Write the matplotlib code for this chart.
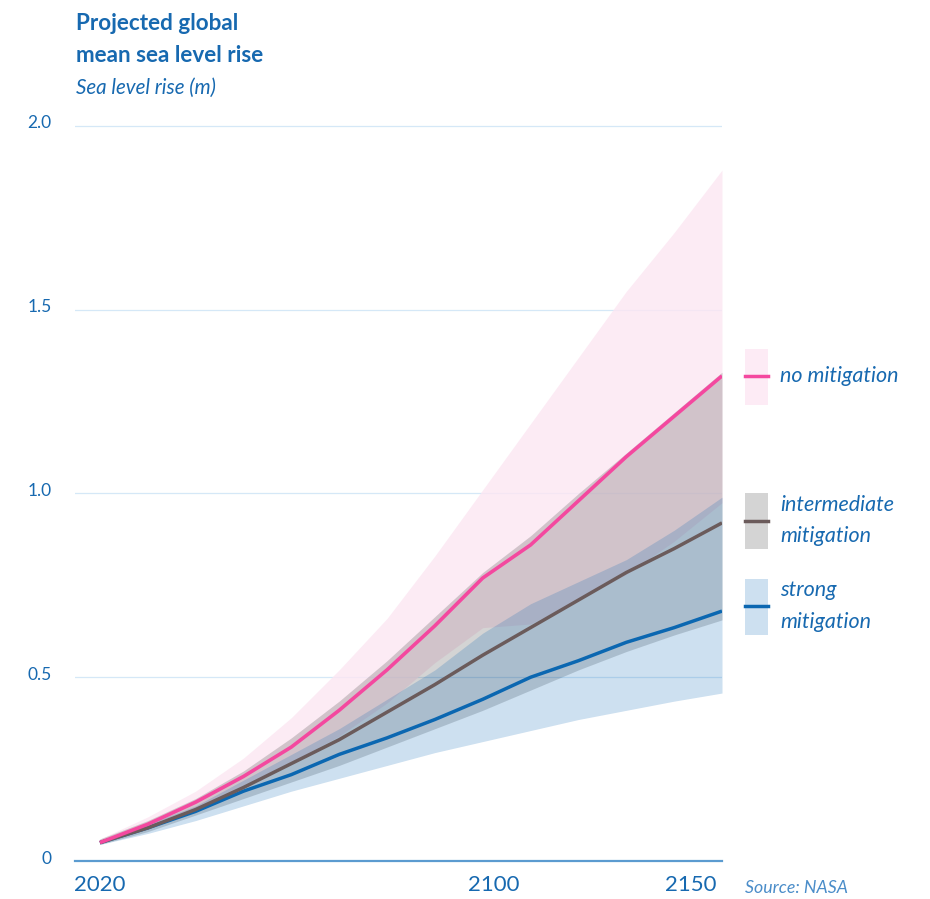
import matplotlib
matplotlib.use("Agg")
import matplotlib.pyplot as plt
import matplotlib.transforms as mtrans
from matplotlib.patches import Rectangle
from matplotlib.lines import Line2D

plt.rcParams['font.family'] = ['Lato', 'DejaVu Sans']

# data (metres of sea level rise)
years = [2020, 2030, 2040, 2050, 2060, 2070, 2080, 2090, 2100, 2110, 2120, 2130, 2140, 2150]

no_mit = [0.05, 0.10, 0.16, 0.23, 0.31, 0.41, 0.52, 0.64, 0.77, 0.86, 0.98, 1.10, 1.21, 1.32]
no_mit_hi = [0.06, 0.12, 0.19, 0.28, 0.39, 0.52, 0.66, 0.83, 1.01, 1.19, 1.37, 1.55, 1.71, 1.88]
no_mit_lo = [0.05, 0.09, 0.14, 0.20, 0.27, 0.34, 0.43, 0.54, 0.635, 0.645, 0.71, 0.78, 0.87, 0.975]

inter_mit = [0.05, 0.09, 0.14, 0.20, 0.265, 0.33, 0.405, 0.48, 0.56, 0.635, 0.71, 0.785, 0.85, 0.92]
inter_hi = [0.06, 0.11, 0.17, 0.245, 0.335, 0.435, 0.545, 0.665, 0.785, 0.885, 1.0, 1.11, 1.22, 1.33]
inter_lo = [0.045, 0.08, 0.125, 0.17, 0.215, 0.26, 0.31, 0.36, 0.41, 0.465, 0.52, 0.57, 0.615, 0.656]

strong_mit = [0.05, 0.09, 0.135, 0.19, 0.235, 0.29, 0.335, 0.385, 0.44, 0.50, 0.545, 0.595, 0.635, 0.68]
strong_hi = [0.055, 0.10, 0.15, 0.22, 0.29, 0.36, 0.44, 0.52, 0.62, 0.70, 0.76, 0.82, 0.90, 0.99]
strong_lo = [0.045, 0.075, 0.11, 0.15, 0.19, 0.225, 0.26, 0.295, 0.325, 0.355, 0.385, 0.41, 0.435, 0.457]

y_ticks = [0, 0.5, 1.0, 1.5, 2.0]
y_labels = ['0', '0.5', '1.0', '1.5', '2.0']
x_ticks = [2020, 2100, 2150]
x_labels = ['2020', '2100', '2150']

BLUE_TXT = '#1769b0'
PINK = '#f4489f'
BROWN = '#6b5b5b'
BLUE = '#0b67b1'

fig = plt.figure(figsize=(9.30, 8.99), dpi=100)
ax = fig.add_axes([75 / 930, 38 / 899, 647 / 930, (861 - 107.6) / 899])

ax.set_xlim(2014.8, 2150)
ax.set_ylim(0, 2.05)

for v in y_ticks[1:]:
    ax.axhline(v, color='#d5e8f7', lw=0.9, zorder=0)

# bands (drawn so the overlaps darken like the original)
ax.fill_between(years, no_mit_lo, no_mit_hi, color=(252/255, 230/255, 242/255), alpha=0.8, lw=0, zorder=1)
ax.fill_between(years, inter_lo, inter_hi, color='black', alpha=0.17, lw=0, zorder=2)
ax.fill_between(years, strong_lo, strong_hi, color=(5/255, 100/255, 180/255), alpha=0.2, lw=0, zorder=3)

ax.plot(years, strong_mit, color=BLUE, lw=2.5, zorder=5, solid_capstyle='butt')
ax.plot(years, inter_mit, color=BROWN, lw=2.5, zorder=5, solid_capstyle='butt')
ax.plot(years, no_mit, color=PINK, lw=2.6, zorder=6, solid_capstyle='butt')

for s in ['top', 'right', 'left']:
    ax.spines[s].set_visible(False)
ax.spines['bottom'].set_color('#5b9bd0')
ax.spines['bottom'].set_linewidth(1.6)

ax.set_yticks(y_ticks)
ax.set_yticklabels(y_labels)
ax.tick_params(axis='y', length=0, pad=17, labelsize=12.5, labelcolor=BLUE_TXT)
for lab in ax.get_yticklabels():
    lab.set_transform(lab.get_transform() + mtrans.ScaledTranslation(0, 4 / 100, fig.dpi_scale_trans))
ax.set_xticks(x_ticks)
ax.set_xticklabels(x_labels)
ax.tick_params(axis='x', length=0, pad=10, labelsize=16, labelcolor=BLUE_TXT)
xl = ax.get_xticklabels()
xl[1].set_transform(xl[1].get_transform() + mtrans.ScaledTranslation(11 / 100, 0, fig.dpi_scale_trans))
xl[2].set_horizontalalignment('right')
xl[2].set_transform(xl[2].get_transform() + mtrans.ScaledTranslation(-5 / 100, 0, fig.dpi_scale_trans))

# titles
fig.text(76 / 930, 1 - 30 / 899, 'Projected global', fontsize=16.2, fontweight='bold', color=BLUE_TXT, va='baseline')
fig.text(76 / 930, 1 - 62 / 899, 'mean sea level rise', fontsize=16.2, fontweight='bold', color=BLUE_TXT, va='baseline')
fig.text(76 / 930, 1 - 94 / 899, 'Sea level rise (m)', fontsize=14.8, style='italic', color=BLUE_TXT, va='baseline')
fig.text(745 / 930, 1 - 893 / 899, 'Source: NASA', fontsize=12.8, style='italic', color='#4b8dc9', va='baseline')

# legend boxes
legend = [
    (349, 405, 376, '#fdebf5', PINK, ['no mitigation']),
    (493, 549, 521, '#d4d4d4', BROWN, ['intermediate', 'mitigation']),
    (579, 635, 606, '#cde0f0', BLUE, ['strong', 'mitigation']),
]
for top, bot, ly, fc, lc, lines in legend:
    fig.patches.append(Rectangle((745 / 930, 1 - bot / 899), 23 / 930, (bot - top) / 899,
                                 transform=fig.transFigure, facecolor=fc, lw=0))
    fig.lines.append(Line2D([745 / 930, 768 / 930], [1 - ly / 899, 1 - ly / 899],
                            transform=fig.transFigure, color=lc, lw=2.5))
    n = len(lines)
    for i, t in enumerate(lines):
        yc = ly + (i - (n - 1) / 2) * 31
        fig.text(780 / 930, 1 - yc / 899, t, fontsize=15.5, style='italic', color=BLUE_TXT, va='center')

fig.savefig('out.png', dpi=100)
